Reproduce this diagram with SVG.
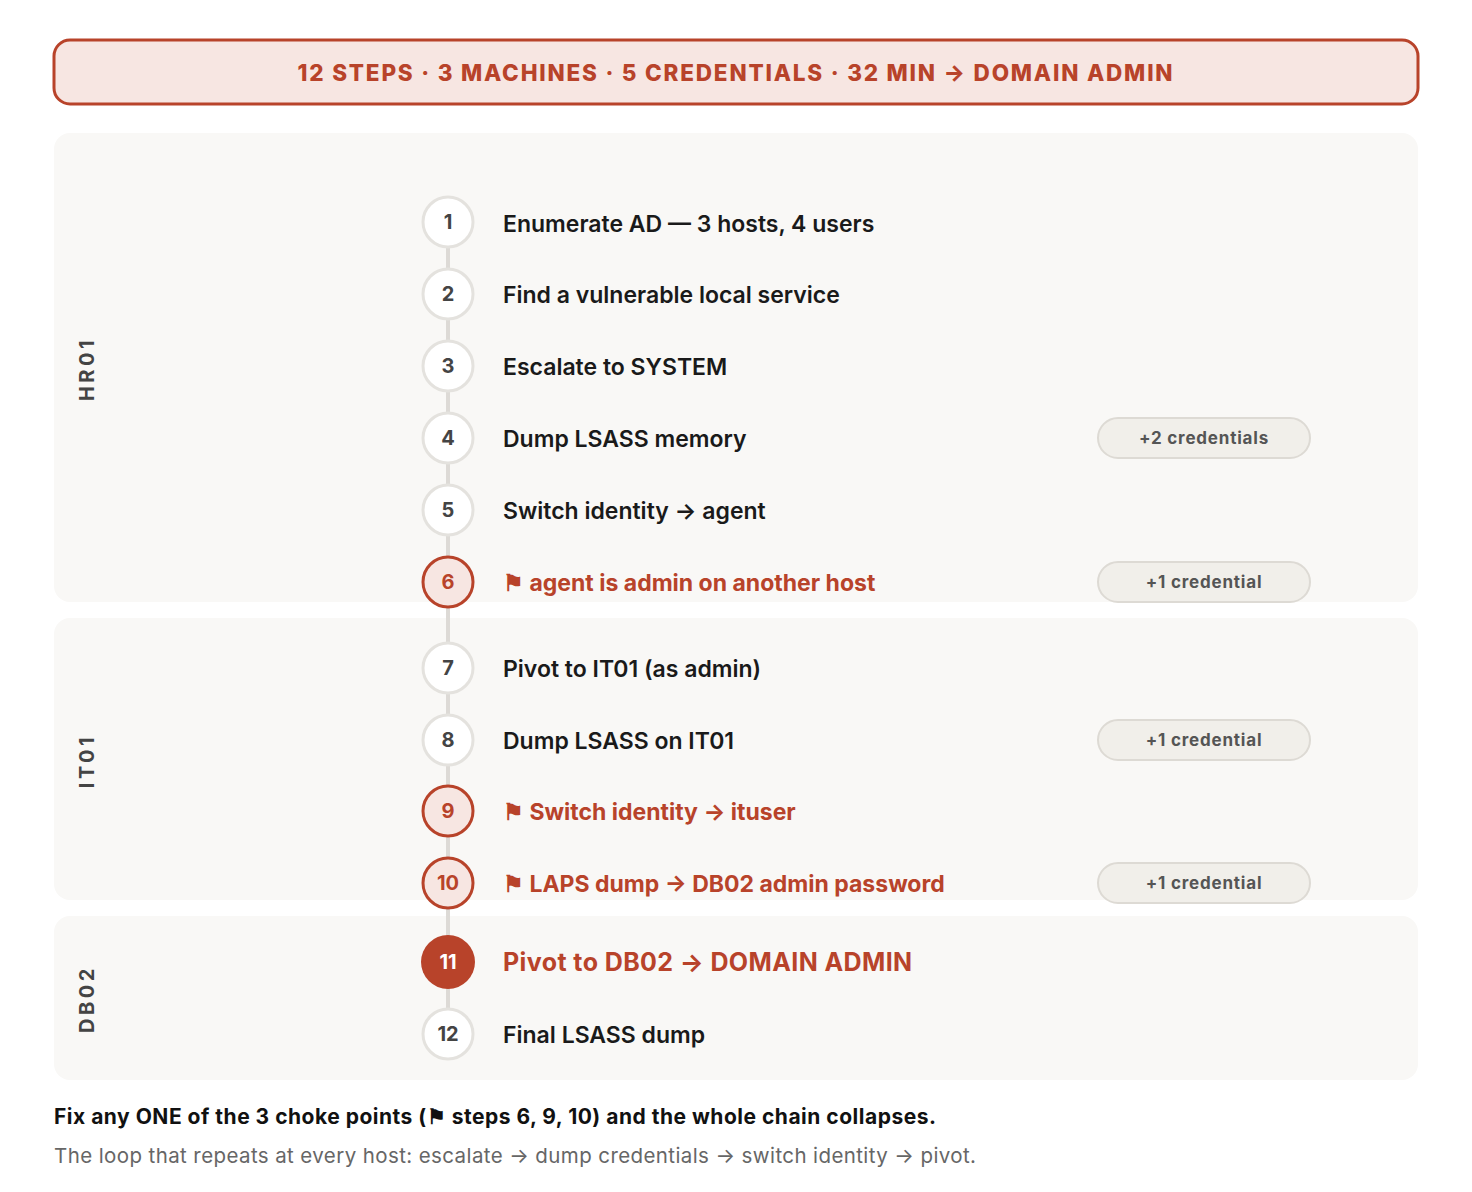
<svg xmlns="http://www.w3.org/2000/svg" width="1472" height="1192" viewBox="0 0 1472 1192">
<style>
.panel{fill:#F9F8F6}
.host{font-family:Inter,"Liberation Sans",sans-serif;font-weight:700;font-size:20px;fill:#444;letter-spacing:3.5px}
.c{fill:#fff;stroke:#E4E2DE;stroke-width:3}
.cc{fill:#F7E6E2;stroke:#B8432A;stroke-width:3}
.num{font-family:Inter,"Liberation Sans",sans-serif;font-weight:700;font-size:20px;fill:#444;text-anchor:middle}
.numc{fill:#B8432A}
.t{font-family:Inter,"Liberation Sans",sans-serif;font-weight:600;font-size:23px;fill:#1A1A1A}
.tc{fill:#B8432A;font-weight:700}
.pill{fill:#F1EFEA;stroke:#DDDAD4;stroke-width:2}
.pt{font-family:Inter,"Liberation Sans",sans-serif;font-weight:700;font-size:17px;fill:#555;text-anchor:middle;letter-spacing:0.8px}
</style>
<rect width="1472" height="1192" fill="#fff"/>
<g id="banner">
<rect x="54" y="40" width="1364" height="64" rx="16" fill="#F7E6E2" stroke="#B8432A" stroke-width="3"/>
<text x="736" y="81" text-anchor="middle" font-family="Inter,'Liberation Sans',sans-serif" font-weight="800" font-size="22.5" fill="#B8432A" letter-spacing="1.8">12 STEPS · 3 MACHINES · 5 CREDENTIALS · 32 MIN → DOMAIN ADMIN</text>
</g>
<g id="panel-hr01"><rect class="panel" x="54" y="133" width="1364" height="469" rx="16"/><text class="host" transform="translate(94 369) rotate(-90)" text-anchor="middle">HR01</text></g>
<g id="panel-it01"><rect class="panel" x="54" y="618" width="1364" height="282" rx="16"/><text class="host" transform="translate(94 761) rotate(-90)" text-anchor="middle">IT01</text></g>
<g id="panel-db02"><rect class="panel" x="54" y="916" width="1364" height="164" rx="16"/><text class="host" transform="translate(94 999) rotate(-90)" text-anchor="middle">DB02</text></g>
<g id="connectors"><line x1="448" y1="222" x2="448" y2="1034" stroke="#DDDAD6" stroke-width="4"/></g>
<g id="step1"><circle class="c" cx="448" cy="222" r="25"/><text class="num" x="448" y="229">1</text><text class="t" x="503" y="232">Enumerate AD — 3 hosts, 4 users</text></g>
<g id="step2"><circle class="c" cx="448" cy="294" r="25"/><text class="num" x="448" y="301">2</text><text class="t" x="503" y="303">Find a vulnerable local service</text></g>
<g id="step3"><circle class="c" cx="448" cy="366" r="25"/><text class="num" x="448" y="373">3</text><text class="t" x="503" y="375">Escalate to SYSTEM</text></g>
<g id="step4"><circle class="c" cx="448" cy="438" r="25"/><text class="num" x="448" y="445">4</text><text class="t" x="503" y="447">Dump LSASS memory</text><rect class="pill" x="1098" y="418" width="212" height="40" rx="20"/><text class="pt" x="1204" y="444">+2 credentials</text></g>
<g id="step5"><circle class="c" cx="448" cy="510" r="25"/><text class="num" x="448" y="517">5</text><text class="t" x="503" y="519">Switch identity → agent</text></g>
<g id="step6"><circle class="cc" cx="448" cy="582" r="25"/><text class="num numc" x="448" y="589">6</text><text class="t tc" x="503" y="591">⚑ agent is admin on another host</text><rect class="pill" x="1098" y="562" width="212" height="40" rx="20"/><text class="pt" x="1204" y="588">+1 credential</text></g>
<g id="step7"><circle class="c" cx="448" cy="668" r="25"/><text class="num" x="448" y="675">7</text><text class="t" x="503" y="677">Pivot to IT01 (as admin)</text></g>
<g id="step8"><circle class="c" cx="448" cy="740" r="25"/><text class="num" x="448" y="747">8</text><text class="t" x="503" y="749">Dump LSASS on IT01</text><rect class="pill" x="1098" y="720" width="212" height="40" rx="20"/><text class="pt" x="1204" y="746">+1 credential</text></g>
<g id="step9"><circle class="cc" cx="448" cy="811" r="25"/><text class="num numc" x="448" y="818">9</text><text class="t tc" x="503" y="820">⚑ Switch identity → ituser</text></g>
<g id="step10"><circle class="cc" cx="448" cy="883" r="25"/><text class="num numc" x="448" y="890">10</text><text class="t tc" x="503" y="892">⚑ LAPS dump → DB02 admin password</text><rect class="pill" x="1098" y="863" width="212" height="40" rx="20"/><text class="pt" x="1204" y="889">+1 credential</text></g>
<g id="step11"><circle cx="448" cy="962" r="27" fill="#B8432A"/><text class="num" x="448" y="969" style="fill:#fff">11</text><text class="t tc" x="503" y="971" style="font-size:25px;letter-spacing:0.4px">Pivot to DB02 → DOMAIN ADMIN</text></g>
<g id="step12"><circle class="c" cx="448" cy="1034" r="25"/><text class="num" x="448" y="1041">12</text><text class="t" x="503" y="1043">Final LSASS dump</text></g>
<g id="footer">
<text x="54" y="1124" font-family="Inter,'Liberation Sans',sans-serif" font-weight="700" font-size="21" letter-spacing="0.5" fill="#111">Fix any ONE of the 3 choke points (⚑ steps 6, 9, 10) and the whole chain collapses.</text>
<text x="54" y="1163" font-family="Inter,'Liberation Sans',sans-serif" font-size="20.5" letter-spacing="0.4" fill="#666">The loop that repeats at every host: escalate → dump credentials → switch identity → pivot.</text>
</g>
</svg>
